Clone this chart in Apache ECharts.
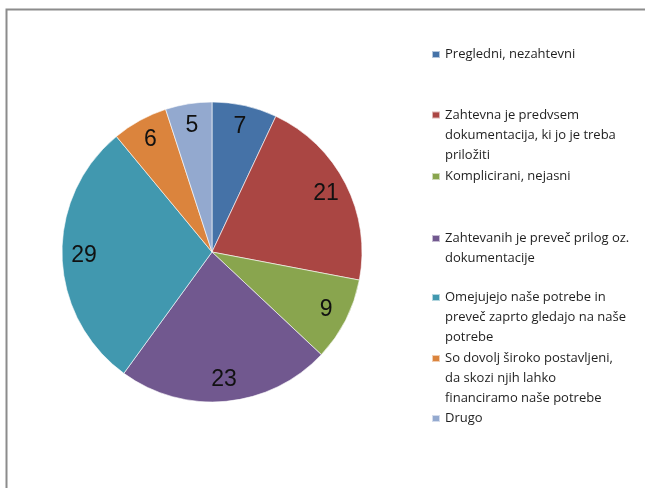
<!DOCTYPE html>
<html>
<head>
<meta charset="utf-8">
<style>
  html, body { margin: 0; padding: 0; background: #ffffff; }
  #chart { width: 645px; height: 488px; }
</style>
<script src="https://cdn.jsdelivr.net/npm/echarts@6/dist/echarts.min.js"></script>
</head>
<body>
<div id="chart"></div>
<script>
// Answer categories (legend text, with the line breaks used in the legend)
const categories = [
  'Pregledni, nezahtevni',
  'Zahtevna je predvsem\ndokumentacija, ki jo je treba\npriložiti',
  'Komplicirani, nejasni',
  'Zahtevanih je preveč prilog oz.\ndokumentacije',
  'Omejujejo naše potrebe in\npreveč zaprto gledajo na naše\npotrebe',
  'So dovolj široko postavljeni,\nda skozi njih lahko\nfinanciramo naše potrebe',
  'Drugo'
];
// Number of answers per category
const values = [7, 21, 9, 23, 29, 6, 5];
const colors = ['#4572A7', '#AA4643', '#89A54E', '#71588F', '#4198AF', '#DB843D', '#93A9CF'];

// Vertical centre of each legend marker
const legendCenters = [54.5, 115, 176.5, 238.5, 297.5, 358.5, 418.5];
const lineH = 20;

const pieData = categories.map((name, i) => ({
  name: name,
  value: values[i],
  itemStyle: { color: colors[i] }
}));

// One legend block per entry so each sits in its own fixed slot.
// Blank lines are put in front of multi-line text so that the marker,
// which the legend centres vertically, lines up with the first text line.
const legends = categories.map((name, i) => {
  const n = name.split('\n').length;
  return {
    show: true,
    data: [name],
    orient: 'vertical',
    left: 431,
    top: legendCenters[i] - (2 * n - 1) * lineH / 2,
    padding: 0,
    itemWidth: 8,
    itemHeight: 7,
    itemGap: 0,
    icon: 'rect',
    selectedMode: false,
    formatter: (label) => '\n'.repeat(n - 1) + label,
    textStyle: {
      fontFamily: 'Open Sans',
      fontSize: 13,
      color: '#1f1f1f',
      lineHeight: lineH
    }
  };
});

const chart = echarts.init(document.getElementById('chart'), null, { renderer: 'canvas' });
chart.setOption({
  animation: false,
  backgroundColor: '#ffffff',
  graphic: [{
    type: 'rect',
    shape: { x: 6.5, y: 9.5, width: 800, height: 600 },
    style: { fill: 'none', stroke: '#8c8c8c', lineWidth: 2 },
    silent: true
  }],
  legend: legends,
  series: [
    {
      // filled pie
      type: 'pie',
      center: [212, 252],
      radius: [0, 150],
      startAngle: 90,
      clockwise: true,
      data: pieData,
      label: { show: false },
      labelLine: { show: false },
      itemStyle: { borderColor: 'rgba(255,255,255,0.6)', borderWidth: 1 },
      emphasis: { disabled: true }
    },
    {
      // transparent outer ring that carries the value labels
      type: 'pie',
      center: [212, 252],
      radius: [100, 150],
      startAngle: 90,
      clockwise: true,
      silent: true,
      data: categories.map((name, i) => ({ name: name, value: values[i] })),
      itemStyle: { color: 'rgba(0,0,0,0)', borderWidth: 0 },
      label: {
        show: true,
        position: 'inside',
        formatter: '{c}',
        fontFamily: 'Liberation Sans',
        fontSize: 23,
        color: '#111111'
      },
      labelLine: { show: false },
      emphasis: { disabled: true }
    }
  ]
});
</script>
</body>
</html>
